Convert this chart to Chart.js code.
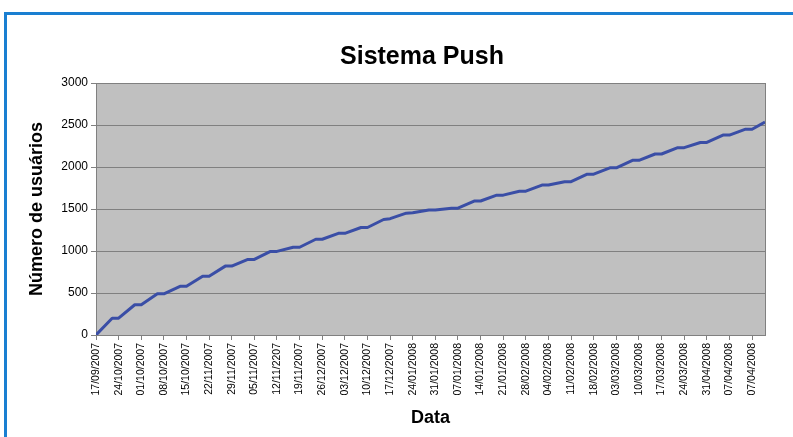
<!DOCTYPE html>
<html>
<head>
<meta charset="utf-8">
<script src="https://cdn.jsdelivr.net/npm/chart.js@4/dist/chart.umd.min.js"></script>
<style>
html,body{margin:0;padding:0;background:#fff;overflow:hidden;width:793px;height:437px;}
#frame{position:absolute;left:4px;top:12px;width:900px;height:500px;border:3px solid #1a7fd1;box-sizing:border-box;}
#wrap{position:absolute;left:0;top:0;}
</style>
</head>
<body>
<div id="frame"></div>
<div id="wrap"><canvas id="pushChart" width="844" height="437"></canvas></div>
<script>
// weekly tick labels (as printed on the original axis)
const weekLabels = ["17/09/2007","24/10/2007","01/10/2007","08/10/2007","15/10/2007","22/11/2007",
    "29/11/2007","05/11/2007","12/11/2207","19/11/2007","26/12/2007","03/12/2007","10/12/2007",
    "17/12/2007","24/01/2008","31/01/2008","07/01/2008","14/01/2008","21/01/2008","28/02/2008",
    "04/02/2008","11/02/2008","18/02/2008","03/03/2008","10/03/2008","17/03/2008","24/03/2008",
    "31/04/2008","07/04/2008","07/04/2008"];

// day number since 17/09/2007 and users on that day
const days  = [0,5,7,12,14,19,21,26,28,33,35,40,42,47,49,54,56,61,63,68,70,75,77,82,84,89,91,96,98,
    103,105,110,112,117,119,124,126,131,133,138,140,145,147,152,154,159,161,166,168,173,175,180,182,
    187,189,194,196,201,203,207];
const users = [0,200,200,360,360,490,490,580,580,700,700,820,820,900,900,995,995,1045,1045,1140,1140,
    1210,1210,1280,1280,1375,1385,1450,1455,1488,1488,1510,1510,1595,1595,1665,1665,1712,1712,1785,1785,
    1825,1825,1915,1915,1990,1990,2080,2080,2155,2155,2230,2230,2292,2292,2380,2380,2450,2450,2535];

const yTicks = [0,500,1000,1500,2000,2500,3000];

const plotBg = {
    id:"plotBg",
    beforeDraw(chart){
        const {ctx, chartArea:a} = chart;
        ctx.save();
        ctx.fillStyle = "#c0c0c0";
        ctx.fillRect(a.left, a.top, a.right-a.left, a.bottom-a.top);
        ctx.restore();
    },
    afterDraw(chart){
        const {ctx, chartArea:a} = chart;
        ctx.save();
        ctx.strokeStyle = "#808080";
        ctx.lineWidth = 1;
        ctx.beginPath();
        ctx.moveTo(a.right+0.5, a.top);
        ctx.lineTo(a.right+0.5, a.bottom);
        ctx.stroke();
        ctx.restore();
    }
};

const ctx = document.getElementById("pushChart").getContext("2d");
new Chart(ctx,{
    type:"line",
    data:{
        datasets:[{
            label:"Número de usuários",
            data:days.map((d,i)=>({x:d,y:users[i]})),
            borderColor:"#3a4ea6",
            borderWidth:3,
            pointRadius:0,
            tension:0,
            borderJoinStyle:"round",
            fill:false
        }]
    },
    options:{
        responsive:false,
        animation:false,
        layout:{padding:0},
        plugins:{
            legend:{display:false},
            tooltip:{enabled:false},
            title:{
                display:true,
                text:"Sistema Push",
                color:"#000",
                font:{family:"Liberation Sans, Arial",size:25,weight:"bold"},
                padding:{top:42,bottom:11}
            }
        },
        scales:{
            x:{
                type:"linear",
                min:0,
                max:207,
                afterBuildTicks:axis=>{axis.ticks = weekLabels.map((_,i)=>({value:i*7}));},
                afterFit:s=>{s.height = 102;},
                ticks:{
                    autoSkip:false,
                    minRotation:90,
                    maxRotation:90,
                    padding:3,
                    color:"#000",
                    font:{family:"Liberation Sans, Arial",size:10.5},
                    callback:(v,i)=>weekLabels[i]
                },
                grid:{drawOnChartArea:false,drawTicks:true,tickLength:5,color:"#808080"},
                border:{color:"#808080"},
                title:{
                    display:true,
                    text:"Data",
                    color:"#000",
                    font:{family:"Liberation Sans, Arial",size:18,weight:"bold"},
                    padding:{top:0,bottom:8}
                }
            },
            y:{
                min:0,
                max:3000,
                afterBuildTicks:axis=>{axis.ticks = yTicks.map(v=>({value:v}));},
                afterFit:s=>{s.width = 96;},
                ticks:{
                    color:"#000",
                    padding:3,
                    font:{family:"Liberation Sans, Arial",size:12},
                    callback:v=>String(v)
                },
                grid:{color:"#808080",tickLength:5,lineWidth:1},
                border:{color:"#808080"},
                title:{
                    display:true,
                    text:"Número de usuários",
                    color:"#000",
                    font:{family:"Liberation Sans, Arial",size:18,weight:"bold"},
                    padding:{top:26,bottom:0}
                }
            },
            yRight:{
                type:"linear",
                position:"right",
                display:true,
                ticks:{display:false},
                grid:{display:false},
                border:{display:false},
                afterFit:s=>{s.width = 79;}
            }
        }
    },
    plugins:[plotBg]
});
</script>
</body>
</html>
